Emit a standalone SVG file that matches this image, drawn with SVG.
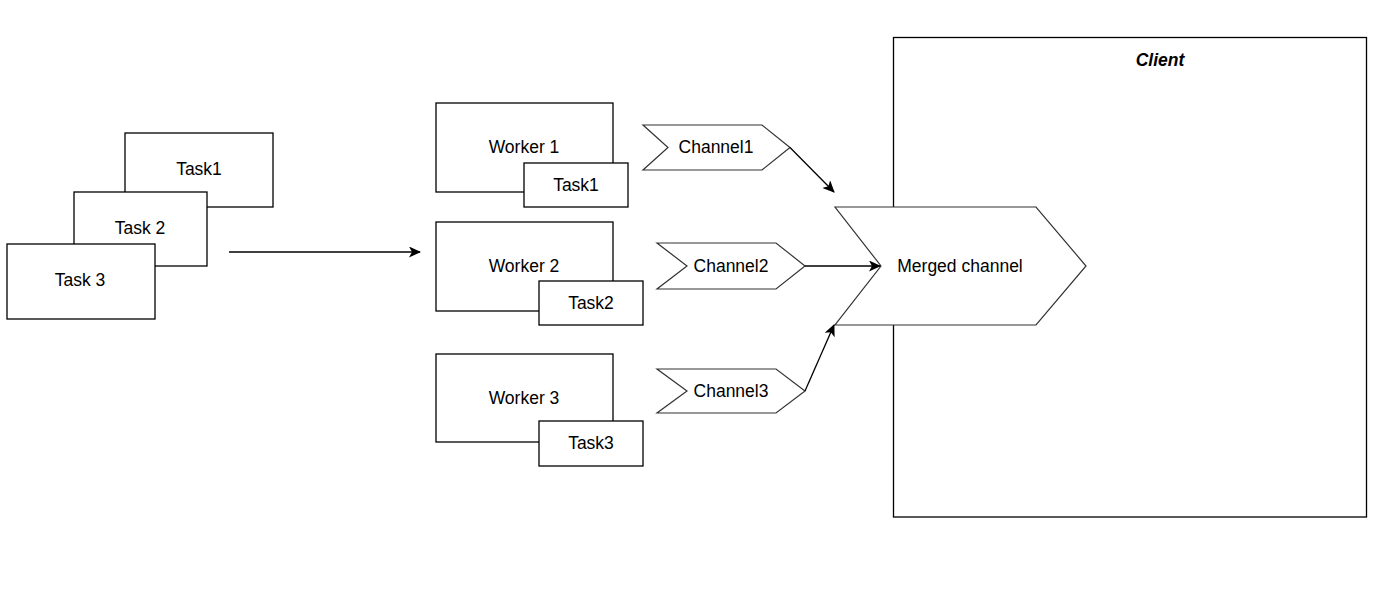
<svg xmlns="http://www.w3.org/2000/svg" width="1400" height="602" viewBox="0 0 1400 602">
<defs>
<style>
.box{fill:#fff;stroke:#000;stroke-width:1.3}
.shape{fill:#fff;stroke:#333;stroke-width:1.2}
.t{font-family:"Liberation Sans",Arial,sans-serif;font-size:17.5px;fill:#000;text-anchor:middle;dominant-baseline:central}
.ti{font-family:"Liberation Sans",Arial,sans-serif;font-size:17.5px;font-weight:bold;font-style:italic;fill:#000;text-anchor:middle;dominant-baseline:central}
.edge{fill:none;stroke:#000;stroke-width:1.3}
</style>
<marker id="arr" viewBox="0 0 12 11" refX="11" refY="5.5" markerWidth="12" markerHeight="11" markerUnits="userSpaceOnUse" orient="auto">
<path d="M0,0 L12,5.5 L0,11 L3,5.5 Z" fill="#000"/>
</marker>
</defs>
<rect width="1400" height="602" fill="#fff"/>
<g id="client"><rect class="box" x="893.5" y="37.5" width="473" height="479.5"/><text class="ti" x="1160" y="60">Client</text></g>
<g id="task1-stack"><rect class="box" x="125" y="133" width="148" height="74"/><text class="t" x="199" y="169">Task1</text></g>
<g id="task2-stack"><rect class="box" x="74" y="192" width="133" height="74"/><text class="t" x="140" y="228">Task 2</text></g>
<g id="task3-stack"><rect class="box" x="7" y="244" width="148" height="75"/><text class="t" x="80" y="280">Task 3</text></g>
<g id="worker1"><rect class="box" x="436" y="103" width="177" height="89"/><text class="t" x="524" y="147">Worker 1</text></g>
<g id="worker1-task"><rect class="box" x="524" y="163" width="104" height="44"/><text class="t" x="576" y="185">Task1</text></g>
<g id="worker2"><rect class="box" x="436" y="222" width="177" height="89"/><text class="t" x="524" y="266">Worker 2</text></g>
<g id="worker2-task"><rect class="box" x="539" y="281" width="104" height="44"/><text class="t" x="591" y="303">Task2</text></g>
<g id="worker3"><rect class="box" x="436" y="354" width="177" height="88"/><text class="t" x="524" y="398">Worker 3</text></g>
<g id="worker3-task"><rect class="box" x="539" y="421" width="104" height="45"/><text class="t" x="591" y="443">Task3</text></g>
<g id="channel1"><polygon class="shape" points="643,125 762,125 790,147.5 762,170 643,170 668,147.5"/><text class="t" x="716" y="147">Channel1</text></g>
<g id="channel2"><polygon class="shape" points="657,243 776,243 805,266 776,289 657,289 687,266"/><text class="t" x="731" y="266">Channel2</text></g>
<g id="channel3"><polygon class="shape" points="657,369 776,369 805,391 776,413 657,413 687,391"/><text class="t" x="731" y="391">Channel3</text></g>
<g id="merged"><polygon class="shape" points="835,207 1036,207 1086,266 1036,325 835,325 881,266"/><text class="t" x="960" y="266">Merged channel</text></g>
<g id="connectors">
<line class="edge" x1="229" y1="252" x2="420" y2="252" marker-end="url(#arr)"/>
<line class="edge" x1="790" y1="147.5" x2="834" y2="192" marker-end="url(#arr)"/>
<line class="edge" x1="805" y1="266" x2="880" y2="266" marker-end="url(#arr)"/>
<line class="edge" x1="805" y1="391" x2="834" y2="325" marker-end="url(#arr)"/>
</g>
</svg>
